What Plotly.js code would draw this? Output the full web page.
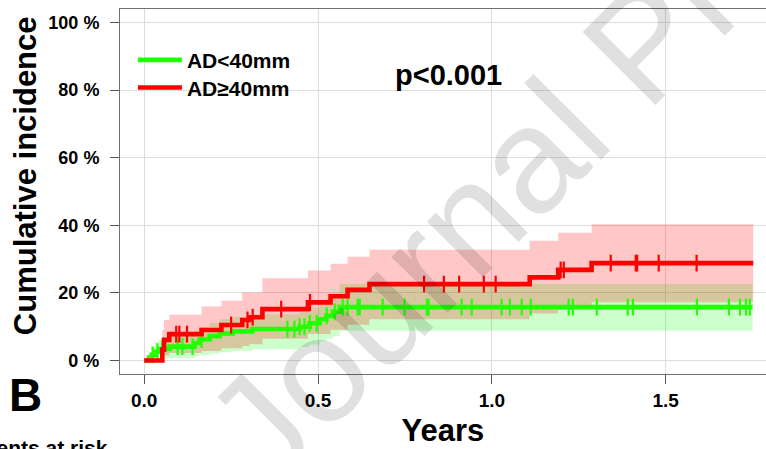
<!DOCTYPE html>
<html><head><meta charset="utf-8">
<script src="https://cdn.plot.ly/plotly-3.0.1.min.js"></script>
<style>html,body{margin:0;padding:0;background:#fff}</style>
</head><body><div id="chart" style="width:766px;height:449px"></div>
<script>
// ---- data ----
const groupNames = ['AD&lt;40mm', 'AD≥40mm'];

const greenTime  = [0, 0.014, 0.022, 0.030, 0.044, 0.073, 0.145, 0.159, 0.188, 0.217, 0.254, 0.311, 0.447, 0.476, 0.505, 0.524, 0.543, 0.562, 1.750];
const greenCum   = [0, 0.9, 1.7, 2.6, 3.4, 4.1, 5.1, 6.2, 7.2, 8.0, 8.6, 9.3, 10.0, 11.0, 12.2, 13.2, 14.4, 15.8, 15.8];
const greenUpper = [0, 2.5, 4.0, 5.3, 6.4, 7.3, 8.8, 10.0, 11.2, 12.2, 12.9, 13.7, 14.4, 15.6, 16.9, 18.2, 20.0, 22.7, 22.7];
const greenLower = [0, 0, 0.1, 0.3, 0.5, 0.7, 1.2, 1.6, 2.0, 2.4, 2.8, 3.3, 4.0, 4.7, 5.6, 6.4, 7.2, 8.8, 8.8];
const greenCensor = [0.024, 0.038, 0.052, 0.096, 0.110, 0.139, 0.165, 0.412, 0.432, 0.447, 0.461, 0.476, 0.496, 0.525, 0.548, 0.571, 0.585, 0.614, 0.620, 0.686, 0.749, 0.813, 0.818, 0.913, 0.942, 1.028, 1.052, 1.086, 1.112, 1.221, 1.233, 1.302, 1.391, 1.406, 1.590, 1.682, 1.714, 1.731, 1.742];

const redTime  = [0, 0.052, 0.057, 0.072, 0.165, 0.222, 0.282, 0.303, 0.340, 0.471, 0.536, 0.585, 0.648, 1.109, 1.191, 1.287, 1.752];
const redCum   = [0, 3.2, 6.1, 7.8, 9.0, 10.5, 12.0, 12.8, 15.2, 17.2, 19.0, 20.9, 22.6, 24.6, 26.8, 28.8, 28.8];
const redUpper = [0, 9.0, 12.0, 13.5, 16.0, 17.7, 20.1, 20.1, 24.3, 26.6, 28.6, 30.7, 32.8, 35.4, 37.8, 40.3, 40.3];
const redLower = [0, 0.5, 1.5, 2.2, 2.8, 3.6, 4.3, 4.8, 6.4, 7.8, 9.1, 10.6, 12.2, 13.9, 15.6, 17.2, 17.2];
const redCensor = [0.092, 0.101, 0.123, 0.250, 0.297, 0.312, 0.394, 0.477, 0.805, 0.862, 0.906, 0.977, 1.011, 1.198, 1.207, 1.342, 1.414, 1.418, 1.480, 1.589];

const xTickVals = [0, 0.5, 1, 1.5];
const xTickText = ['0.0', '0.5', '1.0', '1.5'];
const yTickVals = [0, 20, 40, 60, 80, 100];
const yTickText = ['0 %', '20 %', '40 %', '60 %', '80 %', '100 %'];

// ---- helpers ----
function stepAt(times, vals, t) {
  let v = vals[0];
  for (let i = 0; i < times.length; i++) { if (times[i] <= t) v = vals[i]; }
  return v;
}
const F = "'Liberation Sans', Arial, Helvetica, sans-serif";
const GREEN = '#22ff00', RED = '#ff0000';

function band(times, lo, hi, fill) {
  return [
    {x: times, y: lo, mode: 'lines', line: {width: 0, shape: 'hv'}, hoverinfo: 'skip', showlegend: false},
    {x: times, y: hi, mode: 'lines', line: {width: 0, shape: 'hv'}, fill: 'tonexty', fillcolor: fill, hoverinfo: 'skip', showlegend: false}
  ];
}
function curve(times, vals, name, color, legendId) {
  return {x: times, y: vals, name: name, mode: 'lines', line: {color: color, width: 4.6, shape: 'hv'}, showlegend: true, legend: legendId};
}
function censor(ct, times, vals, color) {
  return {x: ct, y: ct.map(t => stepAt(times, vals, t)), mode: 'markers', showlegend: false,
    marker: {symbol: 'line-ns', size: 12, color: color, line: {color: color, width: 2.2}}};
}

const data = [
  ...band(greenTime, greenLower, greenUpper, 'rgba(0,255,0,0.20)'),
  ...band(redTime, redLower, redUpper, 'rgba(255,0,0,0.22)'),
  curve(greenTime, greenCum, groupNames[0], GREEN, 'legend'),
  censor(greenCensor, greenTime, greenCum, GREEN),
  curve(redTime, redCum, groupNames[1], RED, 'legend2'),
  censor(redCensor, redTime, redCum, RED)
];

const axisCommon = {
  ticks: 'outside', ticklen: 9, tickwidth: 1, tickcolor: '#555',
  showgrid: true, gridcolor: '#dddddd', gridwidth: 1, zeroline: false,
  showline: true, linecolor: '#707070', linewidth: 1, mirror: true, fixedrange: true
};
const legendCommon = {x: 0.02, xanchor: 'left', yanchor: 'top', bgcolor: 'rgba(0,0,0,0)',
  traceorder: 'normal', itemwidth: 44, font: {family: F, size: 21, weight: 'bold', color: '#000'}};

const layout = {
  width: 766, height: 449,
  margin: {l: 120, r: 0, t: 9, b: 75, pad: 0},
  paper_bgcolor: '#ffffff', plot_bgcolor: '#ffffff',
  font: {family: F, color: '#000'},
  showlegend: true,
  legend: Object.assign({}, legendCommon, {y: 0.9159}),
  legend2: Object.assign({}, legendCommon, {y: 0.8403}),
  xaxis: Object.assign({}, axisCommon, {
    range: [-0.0697, 1.7887], tickvals: xTickVals, ticktext: xTickText,
    tickfont: {family: F, size: 19, weight: 'bold', color: '#000'},
    title: {text: 'Years', font: {family: F, size: 31, weight: 'bold', color: '#000'}, standoff: 9}
  }),
  yaxis: Object.assign({}, axisCommon, {
    range: [-4, 104], tickvals: yTickVals, ticktext: yTickText,
    tickfont: {family: F, size: 18, weight: 'bold', color: '#000'}, ticklabelstandoff: 7
  }),
  annotations: [
    {text: 'Cumulative incidence', xref: 'paper', yref: 'paper', x: (25 - 120) / 646, y: 0.542, textangle: -90,
      showarrow: false, xanchor: 'center', yanchor: 'middle', font: {family: F, size: 31, weight: 'bold', color: '#000'}},
    {text: 'p&lt;0.001', xref: 'paper', yref: 'paper', x: 0.508, y: 0.819, showarrow: false,
      xanchor: 'center', yanchor: 'middle', font: {family: F, size: 29, weight: 'bold', color: '#000'}},
    {text: 'B', xref: 'paper', yref: 'paper', x: -0.147, y: -0.0575, showarrow: false,
      xanchor: 'center', yanchor: 'middle', font: {family: F, size: 46, weight: 'bold', color: '#000'}},
    {text: 'Patients at risk', xref: 'paper', yref: 'paper', x: (110 - 120) / 646, y: (374 - 434) / 365, showarrow: false,
      xanchor: 'right', yanchor: 'top', font: {family: F, size: 21, weight: 'bold', color: '#000'}},
    {text: 'Journal Pre-proof', xref: 'paper', yref: 'paper', x: (642 - 120) / 646, y: (374 - 45) / 365, textangle: -45, showarrow: false,
      xanchor: 'center', yanchor: 'middle', font: {family: F, size: 150, color: 'rgba(0,0,0,0.12)'}}
  ]
};

Plotly.newPlot('chart', data, layout, {displayModeBar: false, staticPlot: true});
</script>
</body></html>
